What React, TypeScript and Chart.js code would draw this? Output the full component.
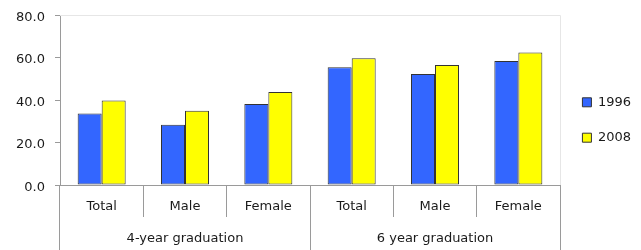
import { useEffect, useRef } from 'react';
import { Chart, registerables } from 'chart.js';

Chart.register(...registerables);

const categories = ['Total', 'Male', 'Female', 'Total', 'Male', 'Female'];
const groups = ['4-year graduation', '6 year graduation'];
const seriesNames = ['1996', '2008'];
const series1996 = [33.7, 28.3, 38.1, 55.4, 52.2, 58.3];
const series2008 = [39.8, 34.9, 43.8, 59.7, 56.5, 62.3];
const yTicks = [0, 20, 40, 60, 80];

export default function App() {
  const ref = useRef<HTMLCanvasElement>(null);

  useEffect(() => {
    document.body.style.margin = '0';
    const FONT = { family: 'DejaVu Sans', size: 13 };
    const TEXT = '#1a1a1a';
    const AXIS = '#9a9a9a';

    const frame = {
      id: 'frame',
      beforeDatasetsDraw(chart: any) {
        const { ctx, chartArea: a } = chart;
        ctx.save();
        ctx.strokeStyle = '#e6e6e6';
        ctx.lineWidth = 1;
        const t = Math.round(a.top) + 0.5;
        const r = Math.round(a.right) + 0.5;
        ctx.beginPath();
        ctx.moveTo(a.left, t);
        ctx.lineTo(r, t);
        ctx.lineTo(r, a.bottom);
        ctx.stroke();
        ctx.restore();
      },
    };

    const legendShift = {
      id: 'legendShift',
      afterLayout(chart: any) {
        const l = chart.legend;
        if (l) {
          l.top -= 7.5;
          l.bottom -= 7.5;
        }
      },
    };

    const chart = new Chart(ref.current as HTMLCanvasElement, {
      type: 'bar',
      data: {
        labels: categories,
        datasets: [
          {
            label: seriesNames[0],
            data: series1996,
            backgroundColor: '#3366FF',
            borderColor: '#333333',
            borderWidth: 1,
            borderSkipped: false,
            xAxisID: 'x',
            yAxisID: 'y',
          },
          {
            label: seriesNames[1],
            data: series2008,
            backgroundColor: '#FFFF00',
            borderColor: '#333333',
            borderWidth: 1,
            borderSkipped: false,
            xAxisID: 'x',
            yAxisID: 'y',
          },
        ],
      },
      options: {
        responsive: false,
        animation: false,
        layout: { padding: { top: 5, bottom: 0, left: 0, right: 0 } },
        datasets: { bar: { categoryPercentage: 0.576, barPercentage: 1 } },
        plugins: {
          legend: {
            position: 'right',
            labels: { boxWidth: 9, boxHeight: 9, padding: 22.4, color: TEXT, font: FONT },
          },
          tooltip: { enabled: false },
        },
        scales: {
          x: {
            type: 'category',
            position: 'bottom',
            weight: 0,
            offset: true,
            grid: { offset: true, drawOnChartArea: false, tickLength: 32, color: AXIS },
            border: { color: AXIS },
            ticks: { padding: -17.8, color: TEXT, font: FONT, maxRotation: 0, autoSkip: false },
            afterFit: (s: any) => {
              s.height = 32;
            },
          },
          x2: {
            type: 'category',
            position: 'bottom',
            weight: 1,
            labels: groups,
            offset: true,
            grid: { offset: true, drawOnChartArea: false, tickLength: 33, color: AXIS },
            border: { display: false },
            ticks: { padding: -18.8, color: TEXT, font: FONT, maxRotation: 0, autoSkip: false },
            afterFit: (s: any) => {
              s.height = 33;
            },
          },
          y: {
            min: yTicks[0],
            max: yTicks[yTicks.length - 1],
            ticks: {
              stepSize: 20,
              padding: 10,
              color: TEXT,
              font: { family: 'DejaVu Sans', size: 13, lineHeight: '5px' },
              callback: (v: any) => ['', Number(v).toFixed(1)],
            },
            grid: { drawOnChartArea: false, tickLength: 5, color: AXIS },
            border: { color: AXIS },
            afterFit: (s: any) => {
              s.width = 60;
            },
          },
        },
      },
      plugins: [frame, legendShift],
    } as any);

    return () => chart.destroy();
  }, []);

  return <canvas ref={ref} width={641} height={250} style={{ display: 'block' }} />;
}
